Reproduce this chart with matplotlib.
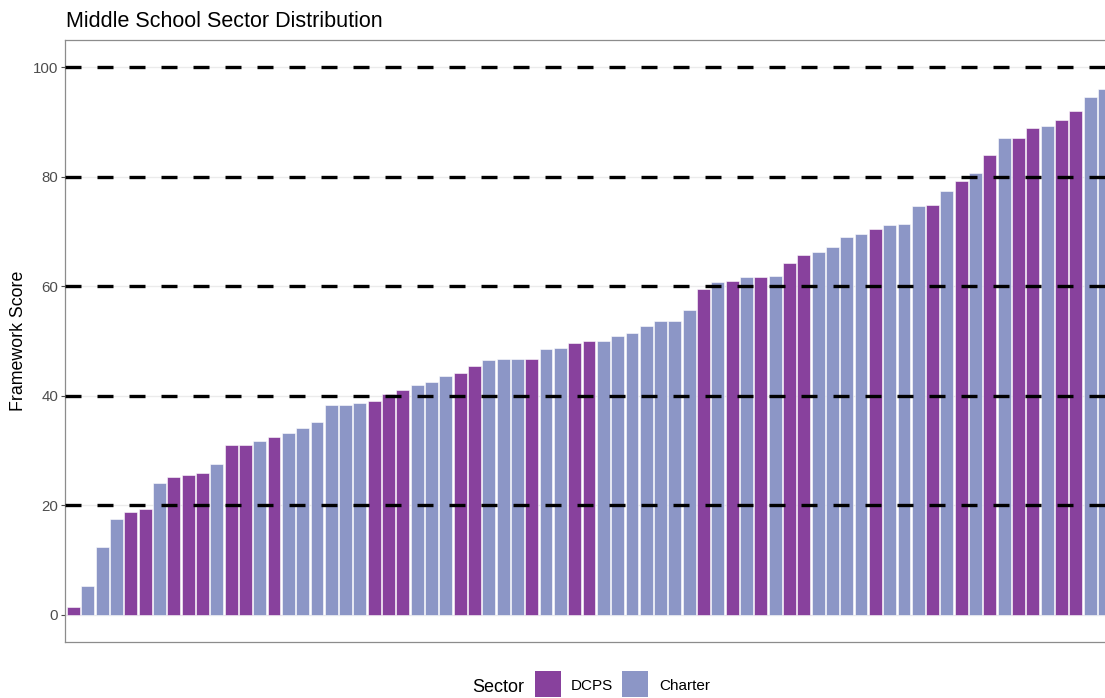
import numpy as np
import matplotlib
matplotlib.use("Agg")
import matplotlib.pyplot as plt
from matplotlib.patches import Rectangle

plt.rcParams['font.family'] = ['Liberation Sans', 'DejaVu Sans']

# framework scores, sorted low to high, with the sector of each school
scores = [1.5, 5.3, 12.5, 17.5, 18.8, 19.3, 24.0, 25.2, 25.5, 25.9,
          27.5, 31.0, 31.1, 31.7, 32.4, 33.2, 34.1, 35.2, 38.3, 38.4,
          38.6, 39.1, 40.3, 41.1, 42.0, 42.6, 43.7, 44.2, 45.5, 46.6,
          46.7, 46.7, 46.8, 48.5, 48.7, 49.6, 50.0, 50.0, 50.9, 51.5,
          52.7, 53.6, 53.7, 55.7, 59.5, 60.7, 60.9, 61.6, 61.6, 61.8,
          64.2, 65.7, 66.3, 67.2, 68.9, 69.5, 70.4, 71.2, 71.3, 74.6,
          74.8, 77.4, 79.2, 80.7, 83.9, 87.0, 87.1, 88.9, 89.2, 90.4,
          92.0, 94.5, 96.0]
sector = ['DCPS', 'Charter', 'Charter', 'Charter', 'DCPS', 'DCPS', 'Charter', 'DCPS', 'DCPS', 'DCPS',
          'Charter', 'DCPS', 'DCPS', 'Charter', 'DCPS', 'Charter', 'Charter', 'Charter', 'Charter', 'Charter',
          'Charter', 'DCPS', 'DCPS', 'DCPS', 'Charter', 'Charter', 'Charter', 'DCPS', 'DCPS', 'Charter',
          'Charter', 'Charter', 'DCPS', 'Charter', 'Charter', 'DCPS', 'DCPS', 'Charter', 'Charter', 'Charter',
          'Charter', 'Charter', 'Charter', 'Charter', 'DCPS', 'Charter', 'DCPS', 'Charter', 'DCPS', 'Charter',
          'DCPS', 'DCPS', 'Charter', 'Charter', 'Charter', 'Charter', 'DCPS', 'Charter', 'Charter', 'Charter',
          'DCPS', 'Charter', 'DCPS', 'Charter', 'DCPS', 'Charter', 'DCPS', 'DCPS', 'Charter', 'DCPS',
          'DCPS', 'Charter', 'Charter']
ref_lines = [20, 40, 60, 80, 100]
yticks = [0, 20, 40, 60, 80, 100]
legend_labels = ['DCPS', 'Charter']

colors = {'DCPS': '#88419D', 'Charter': '#8C96C6'}
W, H = 1105, 698

fig = plt.figure(figsize=(W / 100, H / 100), dpi=100)
# panel runs a little past the right edge, like the cropped original
ax = fig.add_axes([65 / W, 55.6 / H, 1048 / W, 602.8 / H])

x = np.arange(1, len(scores) + 1)
ax.bar(x, scores, width=0.9, color=[colors[s] for s in sector],
       edgecolor='white', linewidth=0.4, zorder=2)

for y in ref_lines:
    ax.axhline(y, color='black', linewidth=2.4, linestyle=(0, (4.8, 4.8)), zorder=3)

ax.set_xlim(0.4, len(scores) + 0.6)
ax.set_ylim(-5, 105)
ax.set_xticks([])
ax.set_yticks(yticks)
ax.set_yticklabels([str(t) for t in yticks], fontsize=10.8, color='#4D4D4D')
ax.tick_params(axis='y', length=3, width=0.8, color='#4D4D4D', pad=2)
ax.grid(axis='y', color='#EBEBEB', linewidth=1.0, zorder=0)
ax.set_axisbelow(True)
for sp in ax.spines.values():
    sp.set_color('#8C8C8C')
    sp.set_linewidth(0.9)

ax.set_ylabel('Framework Score', fontsize=12.8, labelpad=4)
fig.text(66 / W, 1 - 27 / H, 'Middle School Sector Distribution',
         fontsize=15.5, ha='left', va='baseline')

# legend at the bottom, title to the left of the keys
ly = 1 - 684 / H
fig.text(472 / W, 1 - 692 / H, 'Sector', fontsize=13, ha='left', va='baseline')
key_x = [535, 622]
text_x = [571, 659]
for kx, tx, lab in zip(key_x, text_x, legend_labels):
    fig.patches.append(Rectangle((kx / W, ly - 13 / H), 26 / W, 26 / H,
                                 transform=fig.transFigure, facecolor=colors[lab],
                                 edgecolor='none'))
    fig.text(tx / W, 1 - 690 / H, lab, fontsize=11, ha='left', va='baseline')

fig.savefig('out.png', dpi=100)
